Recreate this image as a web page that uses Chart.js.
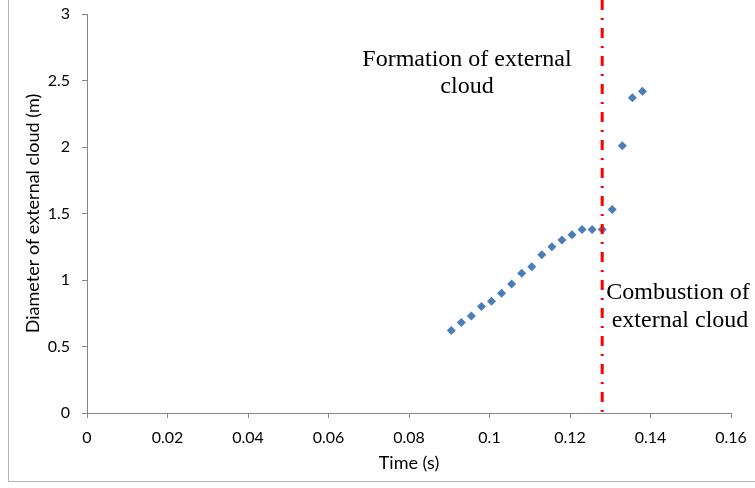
<!DOCTYPE html>
<html>
<head>
<meta charset="utf-8">
<script src="https://cdn.jsdelivr.net/npm/chart.js@4/dist/chart.umd.min.js"></script>
<style>
    html, body { margin: 0; padding: 0; background: #fff; overflow: hidden; }
    #wrap { position: relative; width: 755px; height: 488px; }
    #frame {
        position: absolute; left: 8px; top: -4px; width: 800px; height: 485px;
        border-left: 1px solid #b3b3b3; border-bottom: 1px solid #b3b3b3;
        pointer-events: none;
    }
    canvas { position: absolute; left: 0; top: 0; }
</style>
</head>
<body>
<div id="wrap">
    <div id="frame"></div>
    <canvas id="cloudChart" width="755" height="488"></canvas>
</div>
<script>
const times = [0.0905, 0.0930, 0.0955, 0.0980, 0.1005, 0.1030, 0.1055, 0.1080, 0.1105, 0.1130,
               0.1155, 0.1180, 0.1205, 0.1230, 0.1255, 0.1280, 0.1305, 0.1330, 0.1355, 0.1380];
const diameters = [0.62, 0.68, 0.73, 0.80, 0.84, 0.90, 0.97, 1.05, 1.10, 1.19,
                   1.25, 1.30, 1.34, 1.38, 1.38, 1.38, 1.53, 2.01, 2.37, 2.42];
const combustionTime = 0.128;
const xTicks = [0, 0.02, 0.04, 0.06, 0.08, 0.1, 0.12, 0.14, 0.16];
const yTicks = [0, 0.5, 1, 1.5, 2, 2.5, 3];
const formationLabel = ['Formation of external', 'cloud'];
const combustionLabel = ['Combustion of', 'external cloud'];

const sans = "Lato, 'Open Sans', sans-serif";
const tickFont = { family: sans, size: 16 };
const titleFont = { family: sans, size: 18 };
const axisColor = '#868686';

const overlay = {
    id: 'overlay',
    afterDatasetsDraw(chart) {
        const { ctx, chartArea, scales } = chart;
        const x = scales.x.getPixelForValue(combustionTime);

        ctx.save();
        ctx.strokeStyle = '#ff0000';
        ctx.lineWidth = 3;
        ctx.setLineDash([10, 8, 2, 8]);
        ctx.beginPath();
        ctx.moveTo(x, 0);
        ctx.lineTo(x, chartArea.bottom);
        ctx.stroke();
        ctx.setLineDash([]);

        ctx.fillStyle = '#000';
        ctx.font = "24px 'Liberation Serif', 'Times New Roman', serif";
        ctx.textAlign = 'center';
        ctx.textBaseline = 'middle';
        ctx.fillText(formationLabel[0], 467, 60);
        ctx.fillText(formationLabel[1], 467, 87);
        ctx.fillText(combustionLabel[0], 678, 293);
        ctx.fillText(combustionLabel[1], 680, 321);
        ctx.restore();
    }
};

new Chart(document.getElementById('cloudChart').getContext('2d'), {
    type: 'scatter',
    data: {
        datasets: [{
            data: times.map((t, i) => ({ x: t, y: diameters[i] })),
            pointStyle: 'rectRot',
            pointRadius: 4.5,
            pointHoverRadius: 4.5,
            backgroundColor: '#4a7ebb',
            borderColor: '#4a7ebb',
            borderWidth: 0,
        }],
    },
    options: {
        responsive: false,
        animation: false,
        events: [],
        layout: { padding: { left: 0, right: 24, top: 14, bottom: 0 } },
        plugins: {
            legend: { display: false },
            tooltip: { enabled: false },
        },
        scales: {
            x: {
                type: 'linear',
                min: 0,
                max: 0.16,
                afterBuildTicks: scale => { scale.ticks = xTicks.map(v => ({ value: v })); },
                afterFit: scale => {
                    scale.height = 75;
                    scale.paddingLeft = 0;
                    scale.paddingRight = 0;
                },
                grid: {
                    display: true,
                    drawOnChartArea: false,
                    drawTicks: true,
                    tickLength: 5,
                    color: axisColor,
                },
                border: { display: true, color: axisColor, width: 1 },
                ticks: {
                    color: '#000',
                    font: tickFont,
                    padding: 10,
                    maxRotation: 0,
                    callback: v => String(v),
                },
                title: {
                    display: true,
                    text: 'Time (s)',
                    color: '#000',
                    font: titleFont,
                    padding: { top: 4, bottom: 14 },
                },
            },
            y: {
                type: 'linear',
                min: 0,
                max: 3,
                afterBuildTicks: scale => { scale.ticks = yTicks.map(v => ({ value: v })); },
                afterFit: scale => {
                    scale.width = 87;
                    scale.paddingTop = 0;
                    scale.paddingBottom = 0;
                },
                grid: {
                    display: true,
                    drawOnChartArea: false,
                    drawTicks: true,
                    tickLength: 5,
                    color: axisColor,
                },
                border: { display: true, color: axisColor, width: 1 },
                ticks: {
                    color: '#000',
                    font: tickFont,
                    padding: 12,
                    callback: v => String(v),
                },
                title: {
                    display: true,
                    text: 'Diameter of external cloud (m)',
                    color: '#000',
                    font: titleFont,
                    padding: { top: 22, bottom: 0 },
                },
            },
        },
    },
    plugins: [overlay],
});
</script>
</body>
</html>
